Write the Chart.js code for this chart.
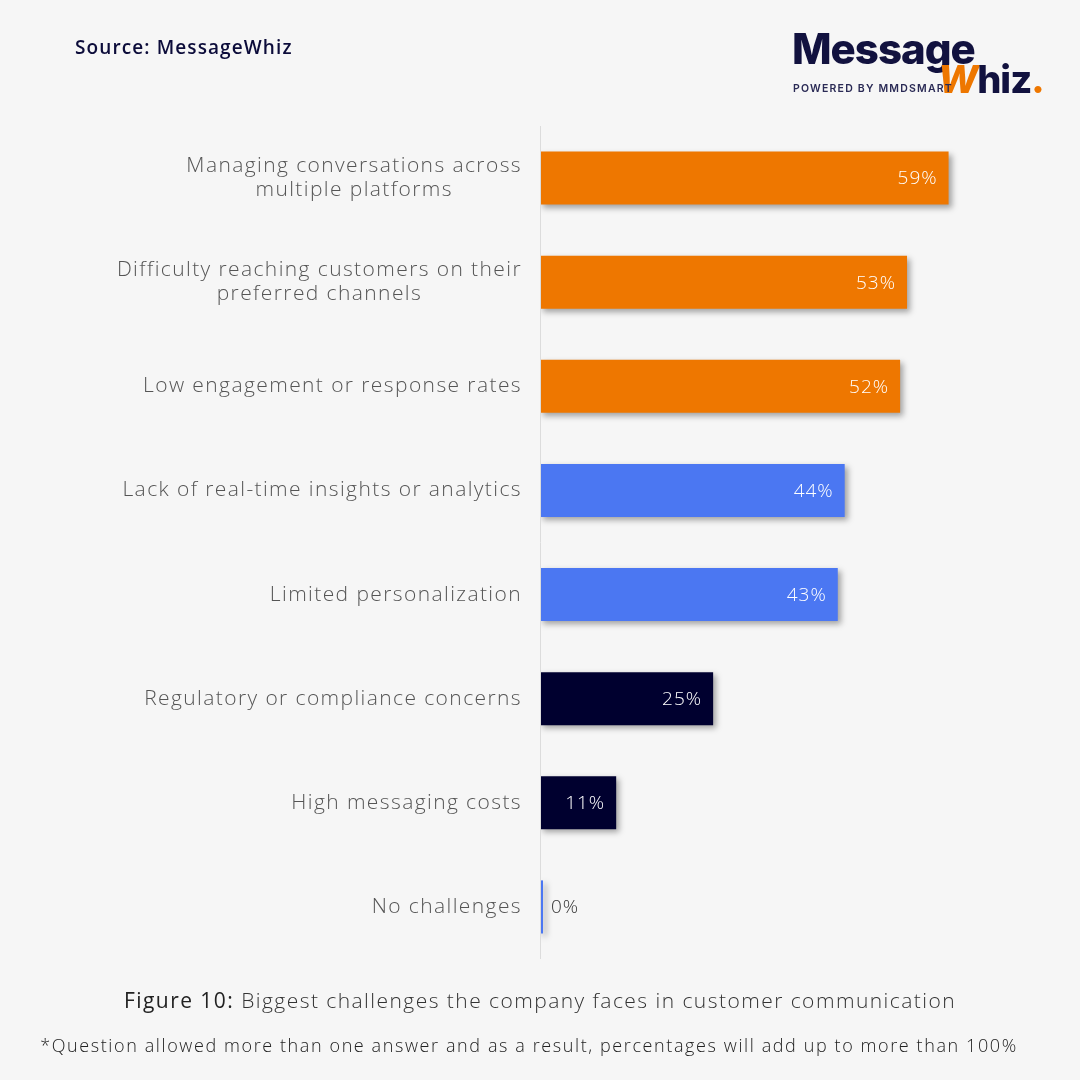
<!DOCTYPE html>
<html>
<head>
<meta charset="utf-8">
<script src="https://cdn.jsdelivr.net/npm/chart.js@4/dist/chart.umd.min.js"></script>
<style>
  html, body { margin: 0; padding: 0; background: #f6f6f6; }
  #wrap { position: relative; width: 1080px; height: 1080px; overflow: hidden; font-family: "Open Sans", sans-serif; }
  #chart { position: absolute; left: 0; top: 0; }
  .source { position: absolute; left: 75px; top: 34px; font-size: 19px; font-weight: 600; color: #0c0c3a; letter-spacing: 1.1px; }
  .logo { position: absolute; left: 792px; top: 28px; width: 260px; }
  .logo .big { font-family: "Inter", sans-serif; font-size: 42px; font-weight: 800; color: #12123f; letter-spacing: -1px; line-height: 42px; }
  .logo .whiz { position: absolute; left: 146px; top: 28px; font-family: "Inter", sans-serif; font-size: 38px; font-weight: 800; color: #12123f; letter-spacing: -1px; }
  .logo .w { color: #ee7700; font-style: italic; }
  .logo .dot { color: #ee7700; }
  .logo .pow { position: absolute; left: 1px; top: 54px; font-family: "Inter", sans-serif; font-size: 10.5px; font-weight: 600; color: #2a2a55; letter-spacing: 1.2px; }
  .caption { position: absolute; left: 0; width: 1080px; top: 986px; text-align: center; font-size: 21px; font-weight: 300; color: #333; letter-spacing: 1.45px; }
  .caption b { font-weight: 500; color: #222; }
  .note { position: absolute; left: -11px; width: 1080px; top: 1033px; text-align: center; font-size: 18px; font-weight: 300; color: #222; letter-spacing: 1.6px; }
</style>
</head>
<body>
<div id="wrap">
  <canvas id="chart" width="1080" height="1080"></canvas>
  <div class="source">Source: MessageWhiz</div>
  <div class="logo">
    <div class="big">Message</div>
    <div class="whiz"><span class="w">W</span>hiz<span class="dot">.</span></div>
    <div class="pow">POWERED BY MMDSMART</div>
  </div>
  <div class="caption"><b>Figure 10:</b> Biggest challenges the company faces in customer communication</div>
  <div class="note">*Question allowed more than one answer and as a result, percentages will add up to more than 100%</div>
</div>
<script>
const categories = [
    ["Managing conversations across", "multiple platforms"],
    ["Difficulty reaching customers on their", "preferred channels"],
    ["Low engagement or response rates"],
    ["Lack of real-time insights or analytics"],
    ["Limited personalization"],
    ["Regulatory or compliance concerns"],
    ["High messaging costs"],
    ["No challenges"]
];
const values = [59, 53, 52, 44, 43, 25, 11, 0];
const barColors = ["#ee7700", "#ee7700", "#ee7700", "#4b77f2", "#4b77f2", "#00002f", "#00002f", "#4b77f2"];

const labelFont = '300 21px "Open Sans", sans-serif';
const valueFont = '300 19px "Open Sans", sans-serif';

// drop shadow under the bars
const shadowPlugin = {
    id: "barShadow",
    beforeDatasetsDraw(chart) {
        const ctx = chart.ctx;
        ctx.save();
        ctx.shadowColor = "rgba(0,0,0,0.35)";
        ctx.shadowBlur = 6;
        ctx.shadowOffsetX = 3;
        ctx.shadowOffsetY = 3;
    },
    afterDatasetsDraw(chart) {
        chart.ctx.restore();
    }
};

// axis line, category labels, value labels
const labelPlugin = {
    id: "labels",
    afterDraw(chart) {
        const ctx = chart.ctx;
        const area = chart.chartArea;
        const yScale = chart.scales.y;
        const meta = chart.getDatasetMeta(0);

        ctx.save();
        ctx.strokeStyle = "#dcdcdc";
        ctx.lineWidth = 1;
        ctx.beginPath();
        ctx.moveTo(area.left + 0.5, area.top);
        ctx.lineTo(area.left + 0.5, area.bottom);
        ctx.stroke();

        ctx.font = labelFont;
        ctx.letterSpacing = "1.4px";
        ctx.fillStyle = "#555";
        ctx.textBaseline = "middle";
        categories.forEach((lines, i) => {
            const y = yScale.getPixelForValue(i);
            const widths = lines.map(l => ctx.measureText(l).width);
            const maxW = Math.max(...widths);
            const cx = area.left - 18 - maxW / 2;
            ctx.textAlign = "center";
            const lh = 24;
            const y0 = y - (lines.length - 1) * lh / 2;
            lines.forEach((l, k) => ctx.fillText(l, cx, y0 + k * lh));
        });

        ctx.font = valueFont;
        ctx.letterSpacing = "1px";
        meta.data.forEach((bar, i) => {
            const txt = values[i] + "%";
            if (values[i] < 5) {
                ctx.fillStyle = "#333";
                ctx.textAlign = "left";
                ctx.fillText(txt, bar.x + 8, bar.y + 1);
            } else {
                ctx.fillStyle = "#ffffff";
                ctx.textAlign = "right";
                ctx.fillText(txt, bar.x - 11, bar.y + 1);
            }
        });
        ctx.restore();
    }
};

new Chart(document.getElementById("chart"), {
    type: "bar",
    data: {
        labels: categories,
        datasets: [{
            data: values,
            backgroundColor: barColors,
            borderWidth: 0,
            minBarLength: 3,
            categoryPercentage: 1,
            barPercentage: 0.51
        }]
    },
    options: {
        indexAxis: "y",
        responsive: false,
        animation: false,
        layout: { padding: { left: 540, right: 40, top: 126, bottom: 121 } },
        scales: {
            x: { display: false, min: 0, max: 72.2 },
            y: { display: false }
        },
        plugins: {
            legend: { display: false },
            tooltip: { enabled: false }
        }
    },
    plugins: [shadowPlugin, labelPlugin]
});
</script>
</body>
</html>
